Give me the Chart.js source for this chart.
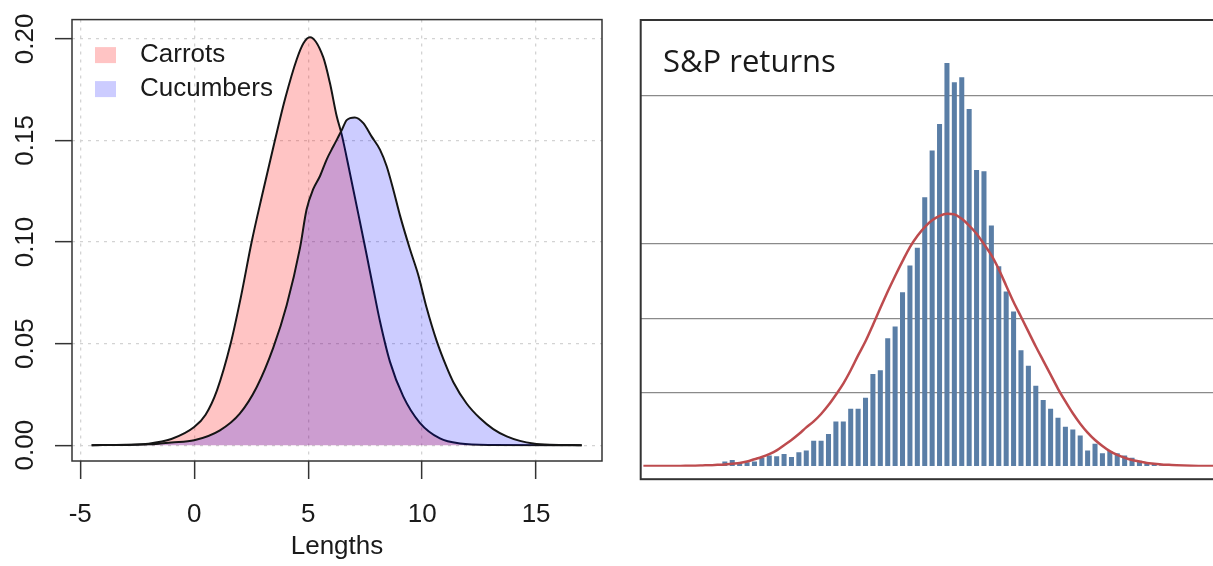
<!DOCTYPE html>
<html>
<head>
<meta charset="utf-8">
<script src="https://cdn.jsdelivr.net/npm/chart.js@4.4.1/dist/chart.umd.min.js"></script>
<style>
    html, body { margin: 0; padding: 0; background: #fff; overflow: hidden; width: 1213px; height: 566px; }
    #densityBox { position: absolute; left: 0; top: 0; width: 610px; height: 566px; }
    #returnsBox { position: absolute; left: 630px; top: 0; width: 640px; height: 566px; }
</style>
</head>
<body>
<div id="densityBox"><canvas id="densityChart"></canvas></div>
<div id="returnsBox"><canvas id="returnsChart"></canvas></div>
<script>
// left panel: density of lengths
var carrotsX = [-4.5, -3, -2, -1, 0, 0.5, 1.0, 1.6, 2.05, 2.52, 3.0, 3.54, 4.0, 4.5, 4.8, 5.08, 5.66, 5.96, 6.25, 6.47, 6.83, 7.27, 7.56, 7.86, 8.15, 8.59, 9.17, 9.9, 10.78, 11.66, 13, 17];
var carrotsY = [0, 0.0002, 0.0007, 0.003, 0.0089, 0.015, 0.027, 0.05, 0.073, 0.10, 0.124, 0.15, 0.171, 0.19, 0.198, 0.2008, 0.191, 0.178, 0.162, 0.153, 0.134, 0.110, 0.094, 0.077, 0.061, 0.041, 0.024, 0.011, 0.0033, 0.0008, 0.0001, 0];

var cucumbersX = [-4.5, -3, -2, -1.5, -1, 0, 1.13, 2.0, 2.74, 3.47, 4.06, 4.64, 4.93, 5.22, 5.52, 5.81, 6.10, 6.47, 6.69, 7.05, 7.42, 7.78, 8.15, 8.44, 8.73, 9.03, 9.46, 9.83, 10.20, 10.64, 11.07, 11.37, 11.95, 12.54, 13.12, 13.71, 14.29, 14.87, 15.6, 17];
var cucumbersY = [0, 0.0001, 0.0004, 0.0008, 0.0013, 0.0024, 0.0073, 0.0155, 0.0285, 0.048, 0.069, 0.097, 0.116, 0.126, 0.1325, 0.1406, 0.147, 0.155, 0.160, 0.1613, 0.1585, 0.152, 0.1455, 0.1374, 0.126, 0.113, 0.0967, 0.0838, 0.0675, 0.0512, 0.0385, 0.031, 0.0205, 0.0132, 0.0079, 0.0043, 0.0021, 0.0008, 0.0002, 0];

// right panel: S&P returns histogram with fitted curve
var returnBins = [];
for (var b = 1; b <= 83; b++) returnBins.push(String(b));

var returnCounts = [0, 0, 0, 0, 0, 0, 0, 0.02, 0, 0, 0,
    0.07, 0.09, 0.06, 0.06, 0.07, 0.12, 0.15, 0.14, 0.17, 0.13,
    0.195, 0.22, 0.35, 0.35, 0.44, 0.61, 0.61, 0.78, 0.78, 0.93,
    1.25, 1.30, 1.73, 1.89, 2.35, 2.71, 2.95, 3.63, 4.26, 4.62,
    5.44, 5.18, 5.25, 4.82, 4.00, 3.98, 3.25, 2.70, 2.36, 2.09,
    1.57, 1.36, 1.09, 0.90, 0.78, 0.66, 0.54, 0.50, 0.42, 0.22,
    0.31, 0.18, 0.21, 0.18, 0.15, 0.12, 0.08, 0.06, 0.04, 0.02,
    0, 0, 0, 0, 0, 0.02, 0, 0, 0, 0, 0, 0];

var normalFit = [0.01, 0.01, 0.01, 0.01, 0.01, 0.01, 0.012, 0.014, 0.017, 0.02,
    0.025, 0.03, 0.04, 0.05, 0.07, 0.10, 0.13, 0.17, 0.22, 0.29,
    0.36, 0.44, 0.53, 0.61, 0.71, 0.83, 0.97, 1.12, 1.30, 1.50,
    1.69, 1.91, 2.14, 2.36, 2.57, 2.77, 2.96, 3.11, 3.23, 3.32,
    3.38, 3.41, 3.40, 3.34, 3.25, 3.14, 3.00, 2.85, 2.66, 2.44,
    2.22, 2.02, 1.82, 1.62, 1.43, 1.24, 1.05, 0.88, 0.72, 0.58,
    0.46, 0.36, 0.28, 0.21, 0.16, 0.12, 0.09, 0.07, 0.05, 0.04,
    0.03, 0.025, 0.02, 0.016, 0.013, 0.011, 0.01, 0.01, 0.01, 0.01,
    0.01, 0.01, 0.01];

var gridValues = [1, 2, 3, 5];
var returnsTitle = 'S&P returns';

var rFont = "'Liberation Sans', Arial, Helvetica, sans-serif";

function toPoints(xs, ys) {
    return xs.map(function (x, i) { return { x: x, y: ys[i] }; });
}

var framePlugin = {
    id: 'frame',
    afterDatasetsDraw: function (chart, args, opts) {
        var a = chart.chartArea;
        var ctx = chart.ctx;
        ctx.save();
        ctx.strokeStyle = opts.color;
        ctx.lineWidth = opts.width;
        ctx.strokeRect(a.left + opts.inset, a.top, a.right - a.left + opts.extraRight, a.bottom - a.top + opts.extraBottom);
        ctx.restore();
    }
};

var boxLegendPlugin = {
    id: 'boxLegend',
    afterDraw: function (chart, args, opts) {
        var a = chart.chartArea;
        var ctx = chart.ctx;
        ctx.save();
        ctx.font = opts.font;
        ctx.textBaseline = 'middle';
        chart.data.datasets.forEach(function (ds, i) {
            var y = a.top + opts.top + i * opts.rowGap;
            ctx.fillStyle = ds.backgroundColor;
            ctx.fillRect(a.left + opts.left, y - opts.boxH / 2, opts.boxW, opts.boxH);
            ctx.fillStyle = opts.color;
            ctx.fillText(ds.label, a.left + opts.textLeft, y);
        });
        ctx.restore();
    }
};

var cornerTitlePlugin = {
    id: 'cornerTitle',
    afterDraw: function (chart, args, opts) {
        var a = chart.chartArea;
        var ctx = chart.ctx;
        ctx.save();
        ctx.font = opts.font;
        ctx.fillStyle = opts.color;
        ctx.textBaseline = 'alphabetic';
        ctx.fillText(opts.text, a.left + opts.x, a.top + opts.y);
        ctx.restore();
    }
};

function renderDensityChart() {
    var ctx = document.getElementById('densityChart').getContext('2d');
    var tickFont = { family: rFont, size: 26 };
    return new Chart(ctx, {
        type: 'line',
        data: {
            datasets: [{
                label: 'Carrots',
                data: toPoints(carrotsX, carrotsY),
                backgroundColor: 'rgba(255, 0, 0, 0.23)',
                borderColor: '#151515',
                borderWidth: 2,
                fill: 'origin',
                pointRadius: 0,
                cubicInterpolationMode: 'monotone',
                order: 1
            }, {
                label: 'Cucumbers',
                data: toPoints(cucumbersX, cucumbersY),
                backgroundColor: 'rgba(0, 0, 255, 0.2)',
                borderColor: '#151515',
                borderWidth: 2,
                fill: 'origin',
                pointRadius: 0,
                cubicInterpolationMode: 'monotone',
                order: 0
            }]
        },
        options: {
            responsive: true,
            maintainAspectRatio: false,
            animation: false,
            layout: { padding: { top: 15.5, right: 8, left: 0, bottom: 0 } },
            plugins: {
                legend: { display: false },
                tooltip: { enabled: false },
                frame: { color: '#333', width: 1.5, inset: 0, extraRight: 0, extraBottom: 0 },
                boxLegend: { font: '26px ' + rFont, color: '#1a1a1a', left: 23, top: 35.5, rowGap: 34, boxW: 21, boxH: 16, textLeft: 68 }
            },
            scales: {
                x: {
                    type: 'linear',
                    min: -5.36,
                    max: 17.89,
                    afterFit: function (s) { s.height = 105; },
                    ticks: { stepSize: 5, includeBounds: false, font: tickFont, color: '#1a1a1a', padding: 20, maxRotation: 0 },
                    grid: { color: '#d3d3d3', lineWidth: 1.3, tickLength: 18, tickColor: '#333', tickWidth: 1.5, tickBorderDash: [] },
                    border: { display: false, dash: [3, 5] },
                    title: { display: true, text: 'Lengths', font: tickFont, color: '#1a1a1a', padding: { top: 0, bottom: 4 } }
                },
                y: {
                    min: -0.0078,
                    max: 0.2095,
                    afterFit: function (s) { s.width = 72; },
                    ticks: {
                        stepSize: 0.05, includeBounds: false, minRotation: 90, maxRotation: 90,
                        crossAlign: 'center', padding: 4, font: tickFont, color: '#1a1a1a',
                        callback: function (v) { return v.toFixed(2); }
                    },
                    grid: { color: '#d3d3d3', lineWidth: 1.3, tickLength: 17, tickColor: '#333', tickWidth: 1.5, tickBorderDash: [] },
                    border: { display: false, dash: [3, 5] }
                }
            }
        },
        plugins: [framePlugin, boxLegendPlugin]
    });
}

function renderReturnsChart() {
    var ctx = document.getElementById('returnsChart').getContext('2d');
    return new Chart(ctx, {
        type: 'bar',
        data: {
            labels: returnBins,
            datasets: [{
                type: 'line',
                label: 'Normal fit',
                data: normalFit,
                borderColor: '#bd4b4e',
                borderWidth: 2.5,
                pointRadius: 0,
                cubicInterpolationMode: 'monotone',
                order: 0
            }, {
                type: 'bar',
                label: 'Returns',
                data: returnCounts,
                backgroundColor: '#5a7ea6',
                barPercentage: 0.68,
                categoryPercentage: 1,
                order: 1
            }]
        },
        options: {
            responsive: true,
            maintainAspectRatio: false,
            animation: false,
            layout: { padding: { left: 9.7, top: 20, right: 15.8, bottom: 99.3 } },
            plugins: {
                legend: { display: false },
                tooltip: { enabled: false },
                frame: { color: '#333', width: 2, inset: 1, extraRight: 20, extraBottom: 12.5 },
                cornerTitle: { text: returnsTitle, font: "31px 'Open Sans', 'Noto Sans', sans-serif", color: '#1a1a1a', x: 23.3, y: 51.7 }
            },
            scales: {
                x: { display: false },
                y: {
                    min: 0,
                    max: 6.02,
                    afterFit: function (s) { s.width = 0; },
                    ticks: { display: false, stepSize: 1, includeBounds: false },
                    grid: {
                        drawTicks: false,
                        lineWidth: 1.3,
                        color: function (c) {
                            return gridValues.indexOf(c.tick.value) >= 0 ? '#8a8a8a' : 'rgba(0,0,0,0)';
                        }
                    },
                    border: { display: false }
                }
            }
        },
        plugins: [framePlugin, cornerTitlePlugin]
    });
}

renderDensityChart();
renderReturnsChart();
</script>
</body>
</html>
